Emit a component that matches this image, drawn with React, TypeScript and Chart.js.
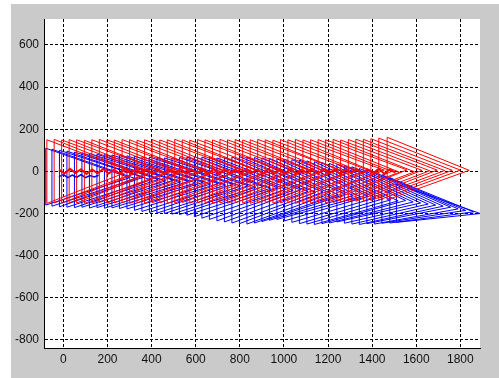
import React, { useEffect, useRef } from "react";
import { Chart, registerables } from "chart.js";
Chart.register(...registerables);

const xTicks = [0, 200, 400, 600, 800, 1000, 1200, 1400, 1600, 1800];
const yTicks = [-800, -600, -400, -200, 0, 200, 400, 600];

// Red triangles: vertical back edge + apex
const redBackX = [-75,-42,-8,26,60,95,129,163,197,231,266,300,334,368,402,437,471,505,539,573,608,642,676,710,744,779,813,847,881,915,950,984,1018,1052,1086,1121,1155,1189,1223,1257,1292,1326,1360,1394,1430,1468];
const redTop = [150,152,149,151,150,148,150,152,150,149,151,150,148,150,151,149,150,152,150,148,151,150,149,152,150,151,149,150,152,150,148,151,150,152,149,150,151,150,152,149,151,153,152,155,158,162];
const redBottom = [-152,-150,-151,-149,-150,-152,-150,-148,-151,-150,-149,-152,-150,-151,-149,-150,-152,-150,-148,-151,-150,-149,-152,-150,-151,-149,-150,-152,-150,-148,-151,-150,-149,-152,-150,-151,-149,-150,-148,-146,-144,-142,-140,-138,-136,-135];
const redApexX = [300,332,365,398,432,466,500,533,567,601,636,670,703,737,771,806,840,874,908,942,977,1011,1045,1079,1113,1148,1182,1216,1250,1284,1319,1353,1387,1421,1455,1490,1524,1558,1592,1626,1661,1695,1729,1763,1800,1840];
const redApexY = [2,-5,6,-3,8,-6,4,-2,7,-4,3,-7,5,0,-5,8,-3,6,-6,2,7,-4,4,-2,6,-5,3,-1,8,-6,5,-3,4,-7,6,0,-4,7,-2,5,3,6,4,5,6,5];

// Red centre band
const redMidX = [-20,5,30,55,80,105,130,155,180,205,230,255,280,305,330,355,380,405,430,455,480,505,530,555,580,605,630,655,680,705,730,755,780,805,830,855,880,905,930,955,980,1005,1030,1055,1080,1105,1130,1155,1180,1205,1230,1255,1280,1305,1330,1355,1380,1405,1430,1455,1480,1505];
const redMidY = [8,-10,12,-8,10,-12,9,-9,11,-10,8,-11,12,-9,10,-8,11,-12,9,-10,8,-9,12,-11,10,-8,9,-12,11,-10,8,-9,10,-11,12,-8,9,-10,11,-12,8,-9,10,-11,9,-8,12,-10,11,-9,8,-12,10,-9,11,-10,9,-8,12,-11,10,-6];

// Blue triangles
const blueBackX = [-80,-52,-18,16,50,84,118,152,186,220,254,288,322,356,390,424,458,492,526,560,594,628,662,696,730,764,798,832,866,900,934,968,1002,1036,1070,1104,1138,1172,1206,1240,1274,1308,1342,1376,1410,1444,1480,1510];
const blueTop = [110,105,100,96,92,88,85,82,80,78,76,74,72,70,68,66,64,65,66,68,70,68,66,64,66,68,70,68,66,64,62,60,58,56,54,50,46,42,38,34,28,22,14,6,-4,-16,-30,-60];
const blueBottom = [-160,-165,-168,-170,-172,-170,-174,-172,-175,-173,-176,-178,-185,-190,-195,-198,-200,-203,-205,-208,-215,-222,-228,-235,-240,-245,-248,-250,-245,-238,-232,-228,-235,-242,-248,-250,-252,-248,-245,-240,-246,-250,-252,-248,-250,-246,-245,-242];
const blueApexX = [300,328,362,396,430,464,498,532,566,600,634,668,702,736,770,804,838,872,906,940,974,1008,1042,1076,1110,1144,1178,1212,1246,1280,1314,1348,1382,1416,1450,1484,1518,1552,1586,1620,1654,1688,1722,1756,1790,1824,1860,1890];
const blueApexY = [-30,-35,-28,-40,-38,-45,-42,-50,-48,-55,-52,-60,-58,-65,-62,-70,-68,-75,-72,-80,-78,-85,-90,-88,-95,-100,-98,-105,-110,-108,-115,-120,-118,-125,-130,-135,-140,-138,-145,-150,-155,-160,-165,-170,-178,-185,-192,-200];

// Blue short band at left
const blueMidX = [-20,0,20,40,60,80,100,120,140,160];
const blueMidY = [-25,-15,-30,-18,-28,-15,-30,-20,-26,-18];

function triangles(back: number[], top: number[], bottom: number[], ax: number[], ay: number[], color: string) {
  return back.map((x, i) => ({
    data: [
      { x, y: top[i] },
      { x: ax[i], y: ay[i] },
      { x, y: bottom[i] },
      { x, y: top[i] },
    ],
    borderColor: color,
    borderWidth: 1,
    pointRadius: 0,
    showLine: true,
    fill: false,
    tension: 0,
  }));
}

function band(xs: number[], ys: number[], color: string, w: number) {
  return {
    data: xs.map((x, i) => ({ x, y: ys[i] })),
    borderColor: color,
    borderWidth: w,
    pointRadius: 0,
    showLine: true,
    fill: false,
    tension: 0,
  };
}

const bgPlugin = {
  id: "bgPlugin",
  beforeDraw(chart: any) {
    const { ctx, chartArea: a, width, height } = chart;
    ctx.save();
    ctx.fillStyle = "#ffffff";
    ctx.fillRect(0, 0, width, height);
    ctx.fillStyle = "#cacaca";
    ctx.fillRect(11, 4, width - 11, height - 4);
    ctx.fillStyle = "#ffffff";
    ctx.fillRect(a.left, a.top, a.right - a.left, a.bottom - a.top);
    ctx.restore();
  },
};

export default function App() {
  const ref = useRef<HTMLCanvasElement | null>(null);
  useEffect(() => {
    if (!ref.current) return;
    const datasets: any[] = [
      band(redMidX, redMidY, "rgb(255,0,0)", 2),
      ...triangles(redBackX, redTop, redBottom, redApexX, redApexY, "rgb(255,0,0)"),
      band(blueMidX, blueMidY, "rgb(0,0,255)", 1.5),
      ...triangles(blueBackX, blueTop, blueBottom, blueApexX, blueApexY, "rgb(0,0,255)"),
    ];
    const font = { family: "'Liberation Sans', Arial, sans-serif", size: 12 };
    const chart = new Chart(ref.current, {
      type: "scatter",
      data: { datasets },
      plugins: [bgPlugin],
      options: {
        responsive: false,
        animation: false,
        events: [],
        layout: { padding: { top: 19, right: 19, left: 0, bottom: 0 } },
        plugins: { legend: { display: false }, tooltip: { enabled: false } },
        scales: {
          x: {
            type: "linear",
            min: -88,
            max: 1889,
            afterBuildTicks: (s: any) => {
              s.ticks = xTicks.map((v) => ({ value: v }));
            },
            afterFit: (s: any) => {
              s.height = 30;
            },
            grid: { color: "#000000", lineWidth: 1, drawTicks: false },
            border: { display: true, color: "#000000", width: 1, dash: [3, 2] },
            ticks: {
              color: "#111111",
              font,
              padding: 4,
              maxRotation: 0,
              autoSkip: false,
              callback: (v: any) => String(v),
            },
          },
          y: {
            type: "linear",
            min: -838,
            max: 723,
            afterBuildTicks: (s: any) => {
              s.ticks = yTicks.map((v) => ({ value: v }));
            },
            afterFit: (s: any) => {
              s.width = 44;
            },
            grid: { color: "#000000", lineWidth: 1, drawTicks: false },
            border: { display: true, color: "#000000", width: 1, dash: [3, 2] },
            ticks: {
              color: "#111111",
              font,
              padding: 5,
              autoSkip: false,
              callback: (v: any) => String(v),
            },
          },
        },
      },
    });
    return () => chart.destroy();
  }, []);
  return (
    <div style={{ position: "fixed", left: 0, top: 0, width: 499, height: 378 }}>
      <canvas ref={ref} width={499} height={378} style={{ display: "block" }} />
    </div>
  );
}
